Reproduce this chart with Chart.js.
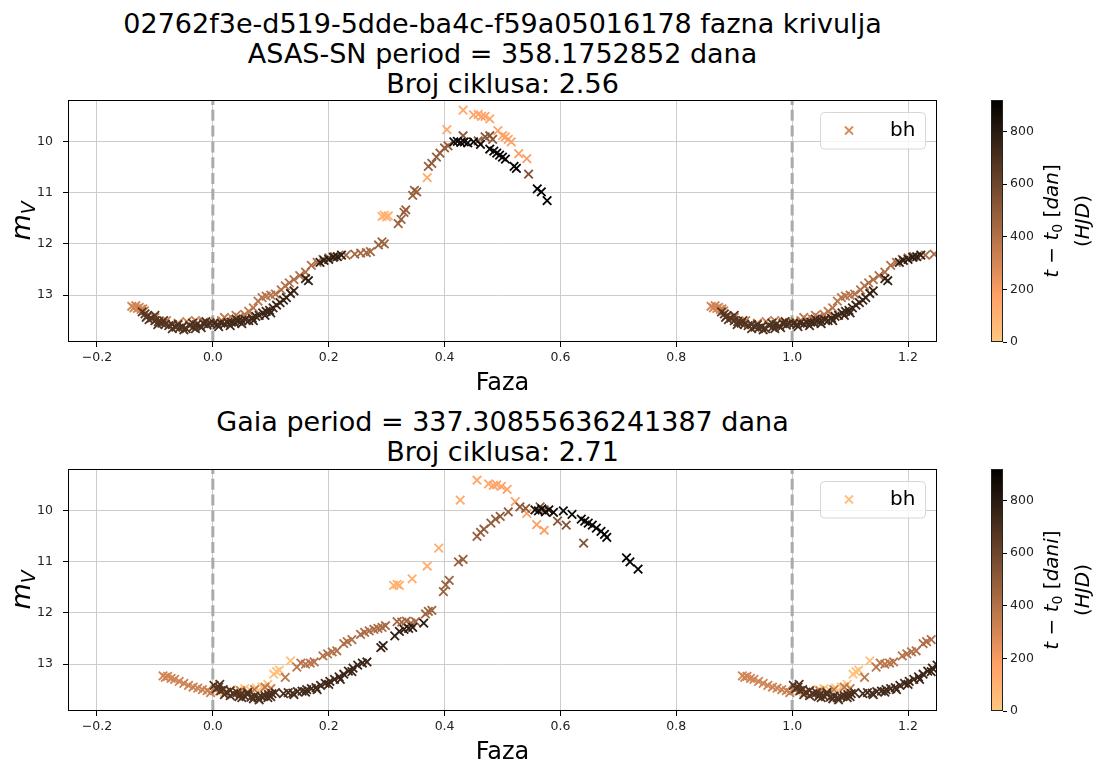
<!DOCTYPE html>
<html>
<head>
<meta charset="UTF-8">
<title>fazna krivulja</title>
<script src="https://cdn.jsdelivr.net/npm/chart.js"></script>
<style>
  body { margin: 0; width: 1097px; height: 762px; overflow: hidden; background: #fff;
         font-family: 'DejaVu Sans', sans-serif; color: #000; position: relative; }
  canvas { position: absolute; }
  .title { position: absolute; left: 0; width: 1005px; text-align: center; font-size: 27px; line-height: 30px; white-space: nowrap; }
  .xlab { position: absolute; left: 0; width: 1005px; text-align: center; font-size: 24px; line-height: 24px; }
  .ylab { position: absolute; width: 80px; height: 40px; line-height: 40px; text-align: center; font-size: 27px; transform: rotate(-90deg); }
  .cblab { position: absolute; width: 200px; height: 62px; line-height: 31px; text-align: center; font-size: 20px; transform: rotate(-90deg); white-space: nowrap; }
  sub { font-size: 0.7em; vertical-align: -0.25em; line-height: 0; }
</style>
</head>
<body>

<div class="title" style="top:8.5px">02762f3e-d519-5dde-ba4c-f59a05016178 fazna krivulja<br>ASAS-SN period = 358.1752852 dana<br>Broj ciklusa: 2.56</div>
<canvas id="asasCurve" width="960" height="372" style="left:0;top:0"></canvas>
<canvas id="asasBar" width="120" height="372" style="left:960px;top:0"></canvas>
<div class="xlab" style="top:370px">Faza</div>
<div class="ylab" style="left:-19px;top:201px"><i>m</i><sub><i>V</i></sub></div>
<div class="cblab" style="left:967px;top:190px"><i>t</i> − <i>t</i><sub>0</sub> [<i>dan</i>]<br>(<i>HJD</i>)</div>

<div class="title" style="top:406.5px">Gaia period = 337.30855636241387 dana<br>Broj ciklusa: 2.71</div>
<canvas id="gaiaCurve" width="960" height="341" style="left:0;top:400px"></canvas>
<canvas id="gaiaBar" width="120" height="341" style="left:960px;top:400px"></canvas>
<div class="xlab" style="top:739px">Faza</div>
<div class="ylab" style="left:-19px;top:570px"><i>m</i><sub><i>V</i></sub></div>
<div class="cblab" style="left:967px;top:559px"><i>t</i> − <i>t</i><sub>0</sub> [<i>dani</i>]<br>(<i>HJD</i>)</div>

<script>
// ---- ASAS-SN fold (P = 358.175 d) ----
const asasPhase = [
    // light, first season
    0.292, 0.296, 0.300, 0.303, 0.370, 0.404, 0.432, 0.450, 0.458, 0.464, 0.470, 0.478, 0.492, 0.500, 0.505, 0.510, 0.515, 0.528, 0.542,
    // medium, before minimum
    -0.140, -0.136, -0.133, -0.130, -0.127, -0.124, -0.121, -0.118, -0.100, -0.080, -0.060, -0.045, -0.030, -0.015, -0.004,
    // medium, rise
    0.005, 0.015, 0.025, 0.035, 0.045, 0.055, 0.062, 0.070, 0.078, 0.085, 0.092, 0.100, 0.108, 0.118, 0.125,
    0.132, 0.140, 0.150, 0.160, 0.170, 0.180, 0.190, 0.200, 0.210, 0.230, 0.245, 0.255, 0.265, 0.272, 0.286,
    0.292, 0.296, 0.320, 0.325, 0.330, 0.333, 0.345, 0.348, 0.352, 0.372, 0.378, 0.386, 0.392, 0.400, 0.406,
    0.432, 0.458, 0.470, 0.478, 0.483, 0.545,
    // dark, minimum
    -0.122, -0.117, -0.113, -0.110, -0.106, -0.100, -0.094, -0.088, -0.085, -0.082, -0.076, -0.070, -0.064,
    -0.060, -0.058, -0.052, -0.046, -0.040, -0.035, -0.034, -0.028, -0.022, -0.016, -0.012, -0.010, -0.005,
    0.002, 0.008, 0.014, 0.020, 0.026, 0.032, 0.038, 0.044, 0.050, 0.056, 0.062,
    0.068, 0.074, 0.080, 0.086, 0.092, 0.098, 0.104, 0.110, 0.116, 0.122, 0.127,
    // darkest, last season
    0.134, 0.140, 0.160, 0.165, 0.185, 0.192, 0.200, 0.208, 0.215, 0.222,
    0.416, 0.422, 0.428, 0.434, 0.440, 0.450, 0.462, 0.478, 0.485, 0.490, 0.495, 0.500, 0.505, 0.520, 0.524, 0.560, 0.567, 0.577,
    // scatter around the minimum
    -0.115, -0.100, -0.095, -0.070, -0.050, -0.030, -0.020, 0.010, 0.030, 0.040, 0.050, 0.070, 0.090, 0.100, 0.020, 0.040
];
const asasMag = [
    11.46, 11.44, 11.47, 11.45, 10.70, 9.76, 9.38, 9.47, 9.46, 9.50, 9.50, 9.55, 9.78, 9.88, 9.90, 9.95, 10.00, 10.23, 10.33,
    13.22, 13.25, 13.21, 13.26, 13.24, 13.28, 13.27, 13.31, 13.44, 13.50, 13.55, 13.52, 13.50, 13.53, 13.55,
    13.52, 13.50, 13.49, 13.47, 13.44, 13.38, 13.32, 13.25, 13.12, 13.05, 13.02, 13.00, 12.98, 12.90, 12.82,
    12.76, 12.70, 12.62, 12.55, 12.42, 12.36, 12.30, 12.27, 12.25, 12.22, 12.20, 12.18, 12.17, 12.15, 12.02,
    11.96, 12.00, 11.60, 11.52, 11.38, 11.33, 11.05, 10.95, 10.98, 10.48, 10.42, 10.30, 10.22, 10.12, 10.08,
    9.88, 9.98, 9.90, 9.88, 9.95, 10.63,
    13.33, 13.37, 13.41, 13.48, 13.45, 13.50, 13.52, 13.55, 13.50, 13.57, 13.60, 13.58, 13.63,
    13.58, 13.65, 13.62, 13.66, 13.60, 13.55, 13.63, 13.58, 13.61, 13.56, 13.52, 13.59, 13.55,
    13.56, 13.58, 13.55, 13.57, 13.54, 13.53, 13.55, 13.51, 13.50, 13.48, 13.50,
    13.45, 13.42, 13.40, 13.35, 13.32, 13.30, 13.25, 13.20, 13.15, 13.10, 13.05,
    12.97, 12.92, 12.68, 12.72, 12.36, 12.32, 12.30, 12.26, 12.25, 12.22,
    10.00, 9.99, 10.01, 10.00, 10.02, 10.00, 10.05, 10.14, 10.18, 10.22, 10.26, 10.30, 10.34, 10.48, 10.52, 10.92, 10.98, 11.15,
    13.44, 13.40, 13.58, 13.66, 13.68, 13.66, 13.64, 13.62, 13.60, 13.47, 13.56, 13.50, 13.40, 13.35, 13.44, 13.40
];
const asasTime = [
    100, 101, 103, 104, 128, 140, 150, 157, 160, 162, 164, 167, 172, 175, 176, 178, 180, 185, 190,
    304, 305, 306, 307, 308, 309, 310, 311, 318, 326, 333, 338, 344, 349, 353,
    356, 359, 363, 366, 370, 373, 376, 379, 382, 384, 387, 390, 392, 396, 398,
    401, 404, 407, 411, 414, 418, 421, 425, 429, 436, 441, 445, 449, 451, 456,
    459, 460, 469, 470, 472, 474, 478, 479, 480, 487, 489, 492, 494, 497, 499,
    509, 518, 522, 525, 527, 548,
    659, 662, 664, 665, 667, 669, 671, 673, 674, 675, 677, 679, 681,
    682, 683, 685, 688, 690, 691, 692, 694, 696, 698, 699, 700, 702,
    713, 715, 717, 719, 721, 723, 725, 727, 729, 731, 733,
    735, 737, 740, 742, 744, 746, 748, 750, 752, 754, 756,
    759, 762, 769, 771, 778, 780, 783, 786, 788, 791,
    866, 868, 870, 872, 874, 878, 882, 888, 890, 892, 894, 895, 897, 903, 904, 917, 919, 922,
    665, 668, 670, 679, 686, 693, 697, 716, 722, 726, 729, 736, 743, 747, 361, 368
];

// ---- Gaia fold (P = 337.309 d) ----
const gaiaPhase = [
    // light, start
    0.020, 0.030, 0.045, 0.055, 0.065, 0.075, 0.085, 0.095, 0.105, 0.110, 0.115, 0.134,
    0.312, 0.318, 0.322, 0.344, 0.370, 0.390, 0.427, 0.456, 0.476, 0.484, 0.490, 0.498, 0.508, 0.522, 0.542, 0.559, 0.572,
    // medium
    -0.086, -0.082, -0.078, -0.072, -0.066, -0.058, -0.050, -0.042, -0.034, -0.026, -0.018, -0.010, -0.004,
    0.004, 0.012, 0.022, 0.035, 0.048, 0.060, 0.072, 0.090, 0.100,
    0.125, 0.145, 0.152, 0.160, 0.168, 0.175, 0.190, 0.198, 0.206, 0.214,
    0.226, 0.232, 0.240, 0.255, 0.262, 0.270, 0.278, 0.285, 0.292, 0.298,
    0.318, 0.326, 0.334, 0.342, 0.350, 0.367, 0.372, 0.378, 0.398, 0.402,
    0.408, 0.424, 0.432, 0.456, 0.462, 0.468, 0.480, 0.488, 0.496, 0.510,
    0.530, 0.540, 0.565, 0.572, 0.595, 0.610, 0.640,
    // dark
    0.002, 0.006, 0.010, 0.014, 0.018, 0.020, 0.024, 0.030, 0.036, 0.042, 0.045, 0.048,
    0.054, 0.060, 0.066, 0.070, 0.072, 0.078, 0.084, 0.090, 0.095, 0.096, 0.102, 0.108,
    0.122, 0.130, 0.138, 0.146, 0.154, 0.162, 0.170, 0.178, 0.186, 0.194, 0.202, 0.210, 0.218,
    0.226, 0.234, 0.242, 0.250, 0.258, 0.266, 0.290, 0.294, 0.314, 0.322, 0.330, 0.338, 0.345, 0.364,
    // darkest
    0.556, 0.562, 0.568, 0.574, 0.580, 0.588, 0.605, 0.620, 0.636, 0.642, 0.648, 0.655, 0.662, 0.670, 0.676, 0.680, 0.714, 0.720, 0.734,
    // scatter in the dark branch
    0.012, 0.030, 0.050, 0.060, 0.080, 0.100, 0.140, 0.160, 0.180, 0.200, 0.220, 0.240
];
const gaiaMag = [
    13.55, 13.52, 13.50, 13.48, 13.52, 13.47, 13.45, 13.40, 13.20, 13.15, 13.12, 12.94,
    11.46, 11.44, 11.46, 11.33, 11.08, 10.73, 9.79, 9.40, 9.47, 9.50, 9.49, 9.52, 9.58, 9.82, 10.05, 10.27, 10.38,
    13.23, 13.26, 13.24, 13.28, 13.30, 13.34, 13.38, 13.42, 13.45, 13.47, 13.50, 13.52, 13.56,
    13.50, 13.53, 13.57, 13.58, 13.52, 13.55, 13.50, 13.45, 13.48,
    13.26, 13.06, 12.98, 13.00, 12.98, 12.96, 12.84, 12.80, 12.76, 12.74,
    12.60, 12.56, 12.52, 12.42, 12.38, 12.35, 12.32, 12.30, 12.28, 12.25,
    12.17, 12.18, 12.16, 12.20, 12.17, 12.02, 11.97, 11.95, 11.58, 11.45,
    11.36, 11.00, 10.95, 10.50, 10.42, 10.36, 10.24, 10.16, 10.11, 10.02,
    9.92, 9.95, 9.92, 9.98, 10.20, 10.28, 10.63,
    13.42, 13.48, 13.45, 13.52, 13.50, 13.60, 13.55, 13.52, 13.58, 13.56, 13.64, 13.60,
    13.62, 13.60, 13.65, 13.68, 13.63, 13.66, 13.64, 13.62, 13.66, 13.60, 13.58, 13.56,
    13.58, 13.56, 13.57, 13.54, 13.53, 13.50, 13.48, 13.46, 13.42, 13.38, 13.34, 13.30, 13.25,
    13.20, 13.14, 13.08, 13.02, 12.98, 12.96, 12.68, 12.64, 12.45, 12.36, 12.32, 12.30, 12.28, 12.20,
    9.98, 10.00, 9.96, 10.02, 9.98, 10.03, 10.00, 10.07, 10.16, 10.20, 10.24, 10.28, 10.34, 10.40, 10.46, 10.52, 10.92, 11.00, 11.14,
    13.40, 13.62, 13.66, 13.56, 13.70, 13.64, 13.60, 13.55, 13.50, 13.40, 13.30, 13.15
];
const gaiaTime = [
    1, 5, 10, 13, 17, 20, 23, 27, 30, 31, 33, 40,
    100, 102, 103, 111, 119, 126, 138, 148, 155, 158, 160, 162, 166, 171, 177, 183, 188,
    305, 306, 308, 310, 312, 314, 317, 320, 322, 325, 328, 330, 332,
    333, 336, 339, 343, 348, 352, 356, 362, 365,
    374, 381, 383, 385, 388, 390, 395, 398, 401, 404,
    408, 410, 412, 418, 420, 423, 425, 428, 430, 432,
    439, 442, 444, 447, 450, 455, 457, 459, 466, 467,
    469, 475, 477, 485, 487, 490, 494, 496, 499, 504,
    510, 514, 522, 524, 532, 537, 548,
    670, 671, 672, 674, 675, 676, 677, 679, 681, 683, 684, 685,
    687, 689, 691, 692, 693, 695, 697, 699, 701, 701, 703, 705,
    710, 713, 715, 718, 721, 723, 726, 729, 731, 734, 737, 739, 742,
    745, 747, 750, 753, 755, 758, 766, 767, 774, 777, 779, 782, 784, 791,
    856, 858, 860, 862, 864, 867, 873, 878, 884, 886, 888, 890, 892, 895, 897, 899, 910, 912, 917,
    673, 680, 686, 689, 696, 702, 716, 723, 729, 736, 743, 749
];

const phaseMin = -0.25;
const phaseMax = 1.25;
const magTop = 9.18;
const magBottom = 13.92;
const timeMax = 920;
const phaseMarks = [0, 1];       // dashed lines
const legendLabel = 'bh';

Chart.defaults.font.family = "'DejaVu Sans', sans-serif";
Chart.defaults.color = '#222';

// matplotlib copper_r
function copperR(v) {
    const c = 1 - Math.min(1, Math.max(0, v));
    const r = Math.min(1, c / 0.809524);
    return 'rgb(' + Math.round(r * 255) + ',' + Math.round(c * 0.7812 * 255) + ',' + Math.round(c * 0.4975 * 255) + ')';
}

// each point at its phase, and again one cycle later while it still fits
function foldPoints(phase, mag, time) {
    const order = phase.map((p, i) => i).sort((a, b) => time[a] - time[b]);
    const pts = [];
    for (const shift of [0, 1]) {
        for (const i of order) {
            const x = phase[i] + shift;
            if (x <= phaseMax) pts.push({x: x, y: mag[i], t: time[i]});
        }
    }
    return pts;
}

const framePlugin = {
    id: 'frame',
    beforeDatasetsDraw(chart) {
        const {ctx, chartArea, scales} = chart;
        ctx.save();
        ctx.strokeStyle = '#aaaaaa';
        ctx.lineWidth = 3;
        ctx.setLineDash([11, 4.8]);
        for (const v of phaseMarks) {
            const px = scales.x.getPixelForValue(v);
            ctx.beginPath();
            ctx.moveTo(px, chartArea.bottom);
            ctx.lineTo(px, chartArea.top);
            ctx.stroke();
        }
        ctx.restore();
    },
    afterDatasetsDraw(chart, args, opts) {
        const {ctx, chartArea} = chart;
        ctx.save();
        ctx.strokeStyle = '#000';
        ctx.lineWidth = 1;
        ctx.strokeRect(chartArea.left + 0.5, chartArea.top + 0.5, chartArea.width - 1, chartArea.height - 1);
        // legend box, upper right
        const bx = chartArea.right - 117, by = chartArea.top + 12;
        ctx.beginPath();
        ctx.roundRect(bx + 0.5, by + 0.5, 105, 36.5, 4);
        ctx.fillStyle = 'rgba(255,255,255,0.8)';
        ctx.fill();
        ctx.strokeStyle = '#d6d6d6';
        ctx.stroke();
        ctx.strokeStyle = opts.color;
        ctx.lineWidth = 1.8;
        const mx = bx + 29, my = by + 18.5, s = 4;
        ctx.beginPath();
        ctx.moveTo(mx - s, my - s); ctx.lineTo(mx + s, my + s);
        ctx.moveTo(mx - s, my + s); ctx.lineTo(mx + s, my - s);
        ctx.stroke();
        ctx.fillStyle = '#000';
        ctx.font = "20px 'DejaVu Sans'";
        ctx.textBaseline = 'alphabetic';
        ctx.fillText(legendLabel, bx + 70, by + 24);
        ctx.restore();
    }
};

function makeCurve(id, phase, mag, time, padTop, legendColor) {
    const pts = foldPoints(phase, mag, time);
    const colors = pts.map(p => copperR(p.t / timeMax));
    new Chart(document.getElementById(id), {
        type: 'scatter',
        data: {
            datasets: [{
                label: legendLabel,
                data: pts,
                pointStyle: 'crossRot',
                pointRadius: 6,
                pointBorderWidth: 1.8,
                pointBorderColor: colors,
                pointBackgroundColor: colors
            }]
        },
        options: {
            responsive: false,
            animation: false,
            events: [],
            layout: { padding: { top: padTop, left: 28, right: 23, bottom: 0 } },
            plugins: {
                legend: { display: false },
                tooltip: { enabled: false },
                frame: { color: legendColor }
            },
            scales: {
                x: {
                    min: phaseMin, max: phaseMax,
                    afterFit: s => { s.height = 30; },
                    border: { display: false },
                    grid: { color: '#cccccc', tickColor: '#000', tickLength: 5 },
                    ticks: {
                        stepSize: 0.2, includeBounds: false, padding: 3, maxRotation: 0,
                        font: { size: 12.5 },
                        callback: v => (v < -1e-9 ? '−' : '') + Math.abs(v).toFixed(1)
                    }
                },
                y: {
                    reverse: true,
                    min: magTop, max: magBottom,
                    afterFit: s => { s.width = 40; },
                    border: { display: false },
                    grid: { color: '#cccccc', tickColor: '#000', tickLength: 5 },
                    ticks: { stepSize: 1, includeBounds: false, padding: 10, font: { size: 12.5 } }
                }
            }
        },
        plugins: [framePlugin]
    });
}

const gradientPlugin = {
    id: 'gradientBar',
    beforeDraw(chart) {
        const {ctx, chartArea: a} = chart;
        const g = ctx.createLinearGradient(0, a.bottom, 0, a.top);
        for (let i = 0; i <= 20; i++) g.addColorStop(i / 20, copperR(i / 20));
        g.addColorStop(0.1905, copperR(0.1905));
        ctx.save();
        ctx.fillStyle = g;
        ctx.fillRect(a.left, a.top, a.width, a.height);
        ctx.restore();
    },
    afterDraw(chart) {
        const {ctx, chartArea: a} = chart;
        ctx.save();
        ctx.strokeStyle = '#222';
        ctx.lineWidth = 1;
        ctx.strokeRect(a.left + 0.5, a.top + 0.5, a.width - 1, a.height - 1);
        ctx.restore();
    }
};

function makeColorbar(id, padTop) {
    new Chart(document.getElementById(id), {
        type: 'scatter',
        data: { datasets: [] },
        options: {
            responsive: false,
            animation: false,
            events: [],
            layout: { padding: { top: padTop, left: 31, right: 27, bottom: 30 } },
            plugins: { legend: { display: false }, tooltip: { enabled: false } },
            scales: {
                x: { display: false, min: 0, max: 1 },
                y: {
                    position: 'right',
                    min: 0, max: timeMax,
                    afterFit: s => { s.width = 50; },
                    border: { display: false },
                    grid: { drawOnChartArea: false, tickColor: '#000', tickLength: 4 },
                    ticks: { stepSize: 200, includeBounds: false, padding: 3, font: { size: 12.5 } }
                }
            }
        },
        plugins: [gradientPlugin]
    });
}

makeCurve('asasCurve', asasPhase, asasMag, asasTime, 100, 'rgb(214,139,92)');
makeColorbar('asasBar', 100);
makeCurve('gaiaCurve', gaiaPhase, gaiaMag, gaiaTime, 69, 'rgb(255,190,122)');
makeColorbar('gaiaBar', 69);
</script>
</body>
</html>
